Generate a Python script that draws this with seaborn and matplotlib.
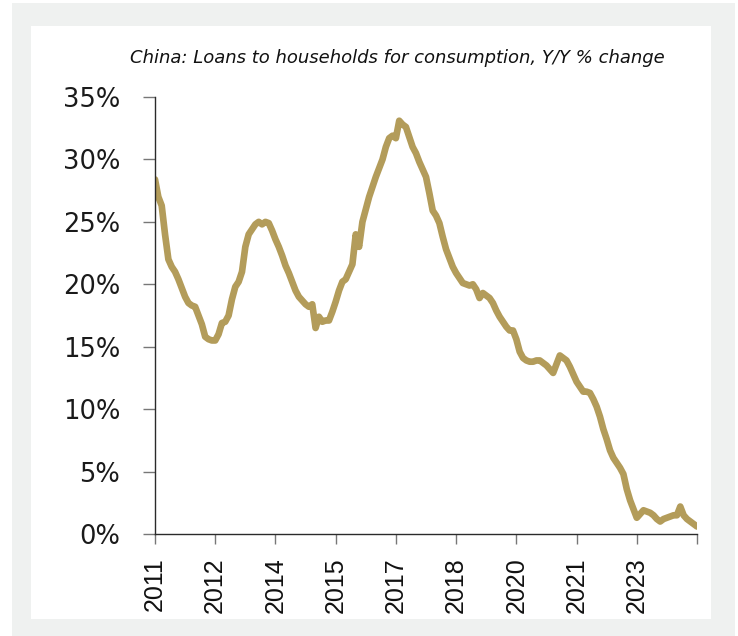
import numpy as np
import pandas as pd
import matplotlib
matplotlib.use("Agg")
import matplotlib.pyplot as plt
import seaborn as sns
from matplotlib.patches import Rectangle

# Monthly year-on-year growth of consumer loans to households (%), Jan 2011 - Jul 2024
growth = [
    28.4, 27.0, 26.3, 24.0, 22.0, 21.4, 21.0, 20.4, 19.7, 19.0,
    18.5, 18.3, 18.2, 17.5, 16.8, 15.8, 15.6, 15.5, 15.5, 16.0,
    16.9, 17.0, 17.5, 18.8, 19.8, 20.2, 21.0, 23.0, 24.0, 24.4,
    24.8, 25.0, 24.8, 25.0, 24.9, 24.3, 23.6, 23.0, 22.3, 21.5,
    20.9, 20.2, 19.5, 19.0, 18.7, 18.4, 18.2, 18.4, 16.5, 17.4,
    17.0, 17.1, 17.1, 17.8, 18.6, 19.5, 20.2, 20.4, 21.0, 21.6,
    24.0, 23.0, 25.0, 26.0, 27.0, 27.8, 28.6, 29.3, 30.0, 31.0,
    31.7, 31.9, 31.7, 33.1, 32.8, 32.6, 31.8, 31.0, 30.5, 29.8,
    29.2, 28.6, 27.3, 25.9, 25.5, 24.9, 23.8, 22.8, 22.1, 21.4,
    20.9, 20.5, 20.1, 20.0, 19.9, 20.0, 19.6, 18.9, 19.3, 19.1,
    18.9, 18.5, 17.9, 17.4, 17.0, 16.6, 16.3, 16.3, 15.6, 14.6,
    14.1, 13.9, 13.8, 13.8, 13.9, 13.9, 13.7, 13.5, 13.2, 12.9,
    13.6, 14.3, 14.1, 13.9, 13.4, 12.8, 12.2, 11.8, 11.4, 11.4,
    11.3, 10.8, 10.2, 9.4, 8.4, 7.6, 6.7, 6.1, 5.7, 5.3,
    4.8, 3.6, 2.7, 2.0, 1.3, 1.6, 1.9, 1.8, 1.7, 1.5,
    1.2, 1.0, 1.2, 1.3, 1.4, 1.5, 1.5, 2.2, 1.5, 1.2,
    1.0, 0.8, 0.6,
]
months = pd.date_range("2011-01-01", periods=len(growth), freq="MS")

# category-style axis: a tick every 18 months, last tick left unlabeled
tick_step = 18
tick_labels = ["2011", "2012", "2014", "2015", "2017", "2018", "2020", "2021", "2023", ""]
y_ticks = [0, 5, 10, 15, 20, 25, 30, 35]

title = "China: Loans to households for consumption, Y/Y % change"

df = pd.DataFrame({"pos": np.arange(len(growth)), "month": months, "growth": growth})

sns.set_theme(style="white")
plt.rcParams["font.family"] = ["DejaVu Sans"]

W, H = 738, 636
fig = plt.figure(figsize=(W / 100, H / 100), dpi=100)
fig.patch.set_facecolor("white")

# light grey frame with a white card on top, both behind the axes
fig.patches.append(Rectangle((12 / W, 0), (735 - 12) / W, 1 - 3 / H,
                             transform=fig.transFigure, facecolor="#eff1f0",
                             edgecolor="none", zorder=-3))
fig.patches.append(Rectangle((31 / W, 1 - 619 / H), (711 - 31) / W, (619 - 26) / H,
                             transform=fig.transFigure, facecolor="white",
                             edgecolor="none", zorder=-2))

ax = fig.add_axes([155 / W, 1 - 534 / H, (697 - 155) / W, (534 - 97) / H])
ax.set_facecolor("none")
ax.set_zorder(2)

sns.lineplot(data=df, x="pos", y="growth", ax=ax, color="#b39c5a",
             linewidth=4.8, solid_joinstyle="round", solid_capstyle="round")

ax.set_xlim(0, len(growth) - 1)
ax.set_ylim(0, 35)
ax.set_xticks(np.arange(0, len(growth), tick_step))
ax.set_xticklabels(tick_labels, rotation=90, va="top", ha="center",
                   fontsize=18, family=["Liberation Sans", "DejaVu Sans"],
                   color="#111111")
ax.set_yticks(y_ticks)
ax.set_yticklabels([f"{v}%" for v in y_ticks], fontsize=18.5, color="#1a1a1a")
ax.set_xlabel("")
ax.set_ylabel("")

for side in ["top", "right"]:
    ax.spines[side].set_visible(False)
for side in ["left", "bottom"]:
    ax.spines[side].set_color("#2a2a2a")
    ax.spines[side].set_linewidth(1.0)

ax.tick_params(axis="y", direction="out", length=9, width=1.0, color="#777777",
               pad=16, left=True)
ax.tick_params(axis="x", direction="out", length=7, width=1.0, color="#777777",
               pad=10, bottom=True)

fig.text(397 / W, 1 - 63 / H, title, ha="center", va="baseline",
         fontsize=13, style="italic", color="#111111")

fig.savefig("out.png", dpi=100)
